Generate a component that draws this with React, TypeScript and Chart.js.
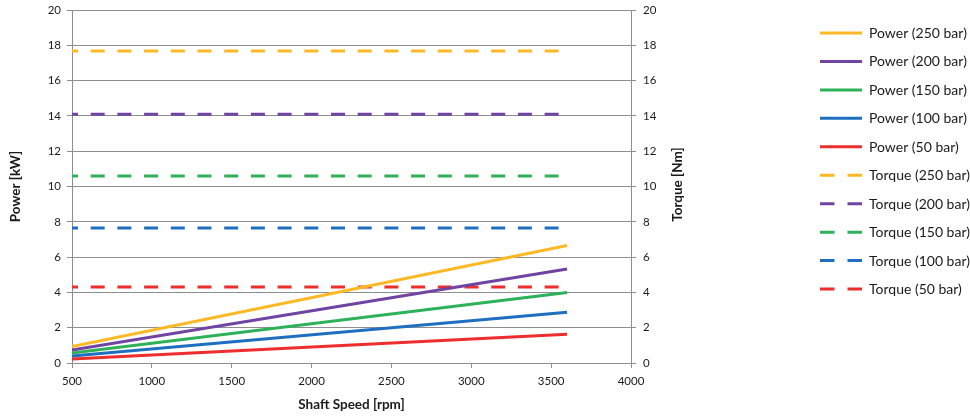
import React, { useEffect, useRef } from 'react';
import { Chart, registerables } from 'chart.js';

Chart.register(...registerables);

// ---- Data ----
const speeds = [500, 3600];
const pressures = ['250 bar', '200 bar', '150 bar', '100 bar', '50 bar'];
const power250 = [0.93, 6.66];
const power200 = [0.74, 5.32];
const power150 = [0.56, 3.99];
const power100 = [0.4, 2.88];
const power50 = [0.22, 1.63];
const torque250 = [17.68, 17.68];
const torque200 = [14.1, 14.1];
const torque150 = [10.6, 10.6];
const torque100 = [7.65, 7.65];
const torque50 = [4.3, 4.3];
const xTicks = [500, 1000, 1500, 2000, 2500, 3000, 3500, 4000];
const yTicks = [0, 2, 4, 6, 8, 10, 12, 14, 16, 18, 20];

const colors = ['#FDB925', '#7044A3', '#2DB25A', '#1F6FC0', '#EE2D2D'];
const powerSeries = [power250, power200, power150, power100, power50];
const torqueSeries = [torque250, torque200, torque150, torque100, torque50];

const FONT = 'Lato, "Open Sans", sans-serif';
const GRID = '#8E8E8E';
const TEXT = '#1a1a1a';

const toPoints = (vals: number[]) => speeds.map((s, i) => ({ x: s, y: vals[i] }));
const plain = (v: any) => String(v);

const customPlugin = {
  id: 'customDecor',
  afterDraw(chart: any) {
    const ctx = chart.ctx as CanvasRenderingContext2D;
    const area = chart.chartArea;
    // right axis title (reads bottom to top)
    ctx.save();
    ctx.translate(area.right + 47, (area.top + area.bottom) / 2 - 2);
    ctx.rotate(-Math.PI / 2);
    ctx.font = `bold 13.5px ${FONT}`;
    ctx.fillStyle = TEXT;
    ctx.textAlign = 'center';
    ctx.textBaseline = 'middle';
    ctx.fillText('Torque [Nm]', 0, 0);
    ctx.restore();

    // legend
    const x0 = 820;
    const x1 = 862;
    chart.data.datasets.forEach((ds: any, i: number) => {
      const y = 33 + i * 28.45;
      ctx.save();
      ctx.beginPath();
      ctx.setLineDash(ds.borderDash && ds.borderDash.length ? [14.5, 13] : []);
      ctx.lineDashOffset = 0;
      ctx.strokeStyle = ds.borderColor;
      ctx.lineWidth = 3;
      ctx.lineCap = 'butt';
      ctx.moveTo(x0, y);
      ctx.lineTo(x1, y);
      ctx.stroke();
      ctx.setLineDash([]);
      ctx.font = `14px ${FONT}`;
      ctx.fillStyle = TEXT;
      ctx.textAlign = 'left';
      ctx.textBaseline = 'middle';
      ctx.fillText(ds.label, 869, y + 0.5);
      ctx.restore();
    });
  },
};

const fitY = (w: number) => (s: any) => {
  s.width = w;
  s.paddingTop = 0;
  s.paddingBottom = 0;
};

export default function App() {
  const ref = useRef<HTMLCanvasElement | null>(null);

  useEffect(() => {
    if (!ref.current) return;
    const datasets: any[] = [];
    powerSeries.forEach((vals, i) => {
      datasets.push({
        label: `Power (${pressures[i]})`,
        data: toPoints(vals),
        borderColor: colors[i],
        backgroundColor: colors[i],
        borderWidth: 3,
        pointRadius: 0,
        fill: false,
        yAxisID: 'y',
      });
    });
    torqueSeries.forEach((vals, i) => {
      datasets.push({
        label: `Torque (${pressures[i]})`,
        data: toPoints(vals),
        borderColor: colors[i],
        backgroundColor: colors[i],
        borderWidth: 3,
        borderDash: [14, 12.7],
        borderDashOffset: 8,
        pointRadius: 0,
        fill: false,
        yAxisID: 'y2',
      });
    });

    const chart = new Chart(ref.current, {
      type: 'line',
      data: { datasets },
      plugins: [customPlugin],
      options: {
        animation: false,
        responsive: false,
        devicePixelRatio: 1,
        layout: { padding: { top: 10, right: 269, bottom: 0, left: 0 } },
        plugins: {
          legend: { display: false },
          tooltip: { enabled: false },
        },
        scales: {
          x: {
            type: 'linear',
            min: 500,
            max: 4000,
            afterFit: (s: any) => { s.height = 55; },
            afterBuildTicks: (s: any) => { s.ticks = xTicks.map((v) => ({ value: v })); },
            ticks: { color: TEXT, font: { family: FONT, size: 11.5 }, padding: 6, maxRotation: 0, callback: plain },
            grid: { drawOnChartArea: false, drawTicks: true, tickLength: 5, color: GRID },
            border: { display: true, color: GRID },
            title: {
              display: true,
              text: 'Shaft Speed [rpm]',
              color: TEXT,
              font: { family: FONT, size: 13.5, weight: 'bold' },
              padding: { top: 0, bottom: 5 },
            },
          },
          y: {
            type: 'linear',
            position: 'left',
            min: 0,
            max: 20,
            afterFit: fitY(72),
            afterBuildTicks: (s: any) => { s.ticks = yTicks.map((v) => ({ value: v })); },
            ticks: { color: TEXT, font: { family: FONT, size: 11.5 }, padding: 6, callback: plain },
            grid: { drawOnChartArea: true, drawTicks: true, tickLength: 5, color: GRID },
            border: { display: true, color: GRID },
            title: {
              display: true,
              text: 'Power [kW]',
              color: TEXT,
              font: { family: FONT, size: 13.5, weight: 'bold' },
              padding: { top: 8, bottom: 0 },
            },
          },
          y2: {
            type: 'linear',
            position: 'right',
            min: 0,
            max: 20,
            afterFit: fitY(70),
            afterBuildTicks: (s: any) => { s.ticks = yTicks.map((v) => ({ value: v })); },
            ticks: { color: TEXT, font: { family: FONT, size: 11.5 }, padding: 7, callback: plain },
            grid: { drawOnChartArea: false, drawTicks: true, tickLength: 5, color: GRID },
            border: { display: true, color: GRID },
            title: { display: false },
          },
        },
      } as any,
    });
    return () => chart.destroy();
  }, []);

  return (
    <div style={{ position: 'fixed', left: 0, top: 0, width: 970, height: 418, background: '#fff' }}>
      <canvas ref={ref} width={970} height={418} style={{ display: 'block', width: 970, height: 418 }} />
    </div>
  );
}
